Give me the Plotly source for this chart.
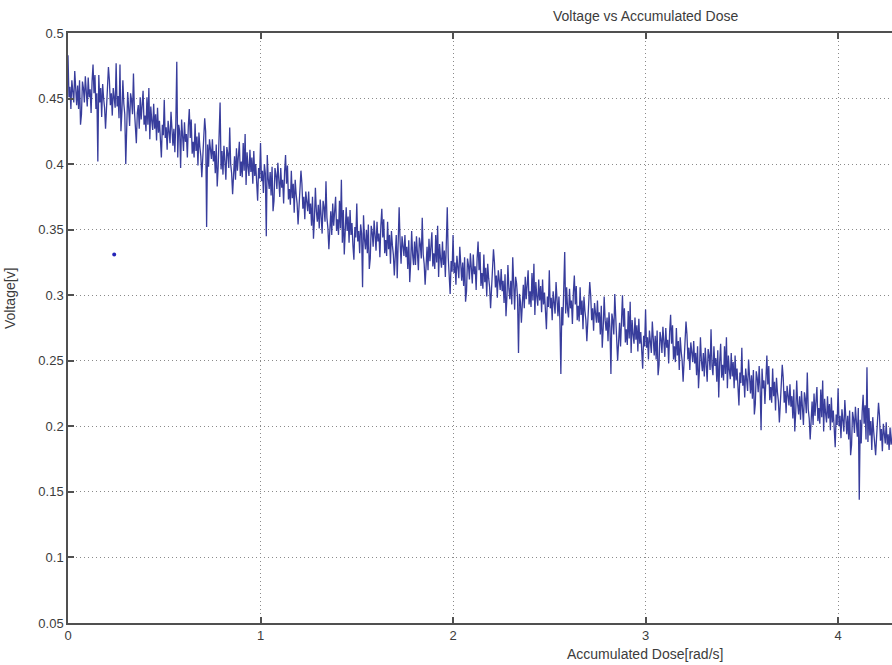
import plotly.graph_objects as go

# Accumulated dose sampled every 0.005 rad/s starting at 0
dose_start = 0.0
dose_step = 0.005

voltage_0_05 = [
    0.483, 0.451, 0.459, 0.442, 0.464, 0.457, 0.447, 0.471, 0.453, 0.445,
    0.460, 0.442, 0.464, 0.430, 0.438, 0.463, 0.458, 0.447, 0.467, 0.450,
    0.444, 0.466, 0.451, 0.457, 0.439, 0.463, 0.476, 0.454, 0.468, 0.442,
    0.454, 0.402, 0.468, 0.447, 0.458, 0.436, 0.461, 0.450, 0.443, 0.427,
    0.448, 0.459, 0.474, 0.464, 0.445, 0.454, 0.437, 0.458, 0.451, 0.443,
    0.477, 0.444, 0.452, 0.435, 0.476, 0.425, 0.440, 0.464, 0.446, 0.438,
    0.400, 0.433, 0.455, 0.443, 0.429, 0.454, 0.449, 0.438, 0.469, 0.441,
    0.432, 0.416, 0.439, 0.445, 0.427, 0.451, 0.434, 0.442, 0.456, 0.430,
    0.437, 0.425, 0.451, 0.430, 0.458, 0.419, 0.444, 0.433, 0.426, 0.446,
    0.427, 0.438, 0.418, 0.443, 0.424, 0.433, 0.416, 0.405, 0.430, 0.422]
voltage_05_10 = [
    0.449, 0.420, 0.428, 0.411, 0.433, 0.426, 0.416, 0.440, 0.422, 0.414,
    0.427, 0.409, 0.431, 0.478, 0.405, 0.430, 0.425, 0.397, 0.434, 0.417,
    0.410, 0.432, 0.417, 0.423, 0.405, 0.429, 0.442, 0.420, 0.434, 0.408,
    0.417, 0.405, 0.431, 0.410, 0.421, 0.399, 0.424, 0.413, 0.406, 0.390,
    0.409, 0.420, 0.435, 0.425, 0.352, 0.415, 0.398, 0.419, 0.412, 0.404,
    0.419, 0.402, 0.410, 0.393, 0.415, 0.383, 0.398, 0.422, 0.447, 0.396,
    0.410, 0.392, 0.414, 0.402, 0.388, 0.413, 0.408, 0.397, 0.428, 0.400,
    0.393, 0.377, 0.400, 0.406, 0.388, 0.412, 0.395, 0.403, 0.417, 0.391,
    0.402, 0.390, 0.416, 0.395, 0.423, 0.384, 0.409, 0.398, 0.391, 0.411,
    0.394, 0.405, 0.385, 0.410, 0.391, 0.400, 0.383, 0.372, 0.397, 0.389]
voltage_10_15 = [
    0.416, 0.387, 0.395, 0.378, 0.400, 0.393, 0.345, 0.407, 0.389, 0.381,
    0.394, 0.376, 0.398, 0.364, 0.372, 0.397, 0.392, 0.381, 0.401, 0.384,
    0.375, 0.397, 0.382, 0.388, 0.370, 0.394, 0.407, 0.385, 0.399, 0.373,
    0.381, 0.369, 0.395, 0.374, 0.385, 0.363, 0.388, 0.377, 0.370, 0.354,
    0.369, 0.380, 0.395, 0.385, 0.366, 0.375, 0.358, 0.379, 0.372, 0.364,
    0.379, 0.362, 0.370, 0.353, 0.375, 0.343, 0.358, 0.382, 0.364, 0.356,
    0.369, 0.351, 0.373, 0.361, 0.347, 0.372, 0.367, 0.356, 0.387, 0.359,
    0.351, 0.335, 0.358, 0.364, 0.346, 0.370, 0.353, 0.361, 0.375, 0.349,
    0.358, 0.346, 0.372, 0.351, 0.388, 0.340, 0.365, 0.331, 0.347, 0.367,
    0.349, 0.360, 0.340, 0.365, 0.346, 0.355, 0.338, 0.327, 0.352, 0.344]
voltage_15_20 = [
    0.370, 0.341, 0.349, 0.332, 0.354, 0.347, 0.306, 0.361, 0.343, 0.335,
    0.350, 0.332, 0.354, 0.320, 0.328, 0.353, 0.348, 0.337, 0.357, 0.340,
    0.334, 0.356, 0.341, 0.347, 0.329, 0.353, 0.366, 0.344, 0.358, 0.332,
    0.342, 0.330, 0.356, 0.335, 0.346, 0.324, 0.349, 0.338, 0.331, 0.315,
    0.335, 0.346, 0.313, 0.351, 0.367, 0.341, 0.324, 0.345, 0.338, 0.330,
    0.346, 0.329, 0.337, 0.320, 0.342, 0.310, 0.325, 0.349, 0.331, 0.323,
    0.341, 0.323, 0.345, 0.333, 0.319, 0.344, 0.339, 0.328, 0.359, 0.331,
    0.324, 0.308, 0.331, 0.337, 0.319, 0.343, 0.326, 0.334, 0.348, 0.322,
    0.332, 0.320, 0.346, 0.325, 0.353, 0.314, 0.339, 0.328, 0.321, 0.341,
    0.323, 0.334, 0.314, 0.339, 0.367, 0.329, 0.312, 0.301, 0.326, 0.318]
voltage_20_25 = [
    0.346, 0.317, 0.325, 0.308, 0.330, 0.323, 0.313, 0.337, 0.319, 0.311,
    0.325, 0.307, 0.329, 0.295, 0.303, 0.328, 0.323, 0.312, 0.332, 0.315,
    0.309, 0.331, 0.316, 0.322, 0.304, 0.328, 0.341, 0.319, 0.333, 0.307,
    0.317, 0.305, 0.331, 0.310, 0.321, 0.299, 0.324, 0.313, 0.306, 0.290,
    0.309, 0.320, 0.335, 0.325, 0.306, 0.315, 0.298, 0.319, 0.312, 0.304,
    0.320, 0.303, 0.311, 0.294, 0.316, 0.284, 0.299, 0.323, 0.305, 0.297,
    0.311, 0.293, 0.329, 0.303, 0.289, 0.314, 0.309, 0.298, 0.256, 0.301,
    0.295, 0.279, 0.302, 0.308, 0.290, 0.314, 0.297, 0.305, 0.319, 0.293,
    0.303, 0.291, 0.317, 0.296, 0.324, 0.285, 0.310, 0.299, 0.292, 0.312,
    0.296, 0.307, 0.287, 0.312, 0.293, 0.302, 0.285, 0.274, 0.299, 0.291]
voltage_25_30 = [
    0.319, 0.290, 0.298, 0.281, 0.303, 0.296, 0.286, 0.310, 0.292, 0.284,
    0.299, 0.281, 0.240, 0.291, 0.277, 0.302, 0.333, 0.286, 0.306, 0.289,
    0.283, 0.305, 0.290, 0.296, 0.278, 0.302, 0.315, 0.293, 0.307, 0.281,
    0.292, 0.280, 0.306, 0.285, 0.296, 0.274, 0.299, 0.288, 0.281, 0.265,
    0.284, 0.295, 0.310, 0.300, 0.281, 0.290, 0.273, 0.294, 0.287, 0.279,
    0.296, 0.279, 0.287, 0.270, 0.292, 0.260, 0.275, 0.299, 0.281, 0.273,
    0.283, 0.265, 0.287, 0.275, 0.240, 0.286, 0.281, 0.270, 0.301, 0.273,
    0.266, 0.250, 0.273, 0.279, 0.261, 0.285, 0.300, 0.276, 0.290, 0.264,
    0.274, 0.262, 0.288, 0.267, 0.295, 0.256, 0.281, 0.270, 0.263, 0.283,
    0.266, 0.277, 0.257, 0.282, 0.263, 0.272, 0.255, 0.244, 0.269, 0.261]
voltage_30_35 = [
    0.289, 0.260, 0.268, 0.251, 0.273, 0.266, 0.256, 0.280, 0.262, 0.254,
    0.269, 0.251, 0.273, 0.239, 0.247, 0.272, 0.267, 0.256, 0.276, 0.259,
    0.253, 0.275, 0.260, 0.266, 0.248, 0.272, 0.285, 0.263, 0.277, 0.251,
    0.261, 0.249, 0.275, 0.254, 0.265, 0.243, 0.268, 0.257, 0.250, 0.234,
    0.254, 0.265, 0.280, 0.270, 0.251, 0.260, 0.243, 0.264, 0.257, 0.249,
    0.265, 0.248, 0.256, 0.239, 0.261, 0.229, 0.244, 0.268, 0.250, 0.242,
    0.256, 0.238, 0.260, 0.248, 0.234, 0.259, 0.254, 0.243, 0.274, 0.246,
    0.239, 0.261, 0.246, 0.252, 0.234, 0.258, 0.222, 0.249, 0.263, 0.237,
    0.247, 0.235, 0.261, 0.240, 0.268, 0.229, 0.254, 0.243, 0.236, 0.256,
    0.238, 0.249, 0.229, 0.254, 0.235, 0.244, 0.227, 0.216, 0.241, 0.233]
voltage_35_40 = [
    0.260, 0.231, 0.239, 0.222, 0.244, 0.237, 0.227, 0.251, 0.233, 0.225,
    0.239, 0.221, 0.243, 0.209, 0.217, 0.242, 0.237, 0.226, 0.246, 0.229,
    0.197, 0.244, 0.229, 0.235, 0.217, 0.241, 0.254, 0.232, 0.246, 0.220,
    0.230, 0.218, 0.244, 0.223, 0.234, 0.212, 0.237, 0.226, 0.219, 0.203,
    0.221, 0.232, 0.247, 0.237, 0.218, 0.227, 0.210, 0.231, 0.224, 0.216,
    0.232, 0.215, 0.223, 0.206, 0.228, 0.196, 0.211, 0.235, 0.217, 0.209,
    0.223, 0.205, 0.227, 0.215, 0.201, 0.226, 0.221, 0.210, 0.241, 0.213,
    0.206, 0.190, 0.213, 0.219, 0.201, 0.225, 0.208, 0.216, 0.230, 0.204,
    0.214, 0.202, 0.228, 0.207, 0.235, 0.196, 0.221, 0.210, 0.203, 0.223,
    0.206, 0.217, 0.197, 0.222, 0.203, 0.212, 0.195, 0.184, 0.209, 0.201]
voltage_40_43 = [
    0.229, 0.200, 0.208, 0.191, 0.213, 0.206, 0.196, 0.220, 0.202, 0.194,
    0.208, 0.190, 0.212, 0.178, 0.186, 0.211, 0.206, 0.195, 0.215, 0.198,
    0.192, 0.214, 0.144, 0.205, 0.187, 0.211, 0.224, 0.202, 0.216, 0.190,
    0.245, 0.188, 0.214, 0.193, 0.204, 0.182, 0.207, 0.196, 0.189, 0.178,
    0.192, 0.203, 0.218, 0.208, 0.189, 0.198, 0.181, 0.202, 0.195, 0.187,
    0.203, 0.186, 0.194, 0.182, 0.199, 0.186, 0.190, 0.206, 0.192, 0.196,
    0.200]

stray_dose = [0.24]
stray_voltage = [0.331]

x_ticks = [0, 1, 2, 3, 4]
y_ticks = [0.05, 0.1, 0.15, 0.2, 0.25, 0.3, 0.35, 0.4, 0.45, 0.5]
y_tick_text = ["0.05", "0.1", "0.15", "0.2", "0.25", "0.3", "0.35", "0.4", "0.45", "0.5"]

voltage = (voltage_0_05 + voltage_05_10 + voltage_10_15 + voltage_15_20 +
           voltage_20_25 + voltage_25_30 + voltage_30_35 + voltage_35_40 +
           voltage_40_43)

fig = go.Figure()
fig.add_trace(go.Scatter(y=voltage, x0=dose_start, dx=dose_step, mode="lines",
                         line=dict(color="#383d9c", width=1.3), showlegend=False))
fig.add_trace(go.Scatter(x=stray_dose, y=stray_voltage, mode="markers",
                         marker=dict(color="#2424b8", size=4, symbol="circle"),
                         showlegend=False))

font = dict(family="Liberation Sans, Arial, sans-serif", size=14, color="#3c3c3c")
tick_font = dict(family="Liberation Sans, Arial, sans-serif", size=13, color="#3c3c3c")
axis_common = dict(showline=True, linecolor="#505050", linewidth=1.5,
                   ticks="inside", ticklen=6, tickcolor="#505050", tickwidth=1.5,
                   showgrid=True, gridcolor="#8a8a8a", griddash="1px,3px", gridwidth=1,
                   zeroline=False, tickfont=tick_font)

fig.update_layout(
    width=892, height=665,
    margin=dict(l=68, r=0, t=33, b=42),
    plot_bgcolor="white", paper_bgcolor="white",
    xaxis=dict(range=[0, 4.28], tickvals=x_ticks, mirror="ticks", **axis_common),
    yaxis=dict(range=[0.05, 0.5], tickvals=y_ticks, ticktext=y_tick_text, mirror=False,
               **axis_common),
    annotations=[
        dict(text="Voltage vs Accumulated Dose", x=645, y=16, showarrow=False, font=font),
        dict(text="Accumulated Dose[rad/s]", x=645, y=654, showarrow=False, font=font),
        dict(text="Voltage[v]", x=10, y=298, showarrow=False, font=font, textangle=-90),
    ],
)

# Convert pixel positions of the text annotations into paper coordinates
pw = 892 - 68
ph = 665 - 33 - 42
for ann in fig.layout.annotations:
    px, py = ann.x, ann.y
    ann.x = (px - 68) / pw
    ann.y = 1 - (py - 33) / ph
    ann.xref = "paper"
    ann.yref = "paper"
    ann.xanchor = "center"
    ann.yanchor = "middle"

fig.write_html("out.html")
